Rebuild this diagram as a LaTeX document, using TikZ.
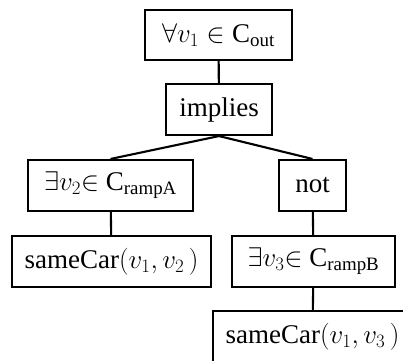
\documentclass[tikz,border=0pt]{standalone}
\usepackage{fix-cm}
\usepackage{fontspec}
\setmainfont{Liberation Serif}
\begin{document}
\begin{tikzpicture}[x=1pt,y=-1pt,
  box/.style={draw,line width=2.1pt,minimum height=51pt,inner sep=0pt,
    font=\fontsize{27}{32}\selectfont},
  edge/.style={line width=2.1pt}]
\useasboundingbox (0,0) rectangle (403,360);
\clip (0,0) rectangle (403,360);
% quantifier tree
\node[box,minimum width=147pt,minimum height=50pt] (forall) at (218.5,35) {$\forall v_1 \in \mathrm{C}_{\mathrm{out}}$};
\node[box,minimum width=106pt] (implies) at (219,109.5) {implies};
\node[box,minimum width=165pt] (existsA) at (110.5,185.5) {$\exists v_2{\in}\ \mathrm{C}_{\mathrm{rampA}}$};
\node[box,minimum width=67pt] (not) at (312.5,185.5) {not};
\node[box,minimum width=199pt] (sameA) at (111.5,261.5) {sameCar$(v_1, v_2\,)$};
\node[box,minimum width=163pt] (existsB) at (313.5,261.5) {$\exists v_3{\in}\ \mathrm{C}_{\mathrm{rampB}}$};
\node[box,minimum width=199pt] (sameB) at (312.5,336.5) {sameCar$(v_1, v_3\,)$};
% connectors
\draw[edge] (forall) -- (implies);
\draw[edge] (implies.south) -- (existsA.north);
\draw[edge] (implies.south) -- (not.north);
\draw[edge] (existsA) -- (sameA);
\draw[edge] (not) -- (existsB);
\draw[edge] (existsB) -- (sameB);
\end{tikzpicture}
\end{document}
